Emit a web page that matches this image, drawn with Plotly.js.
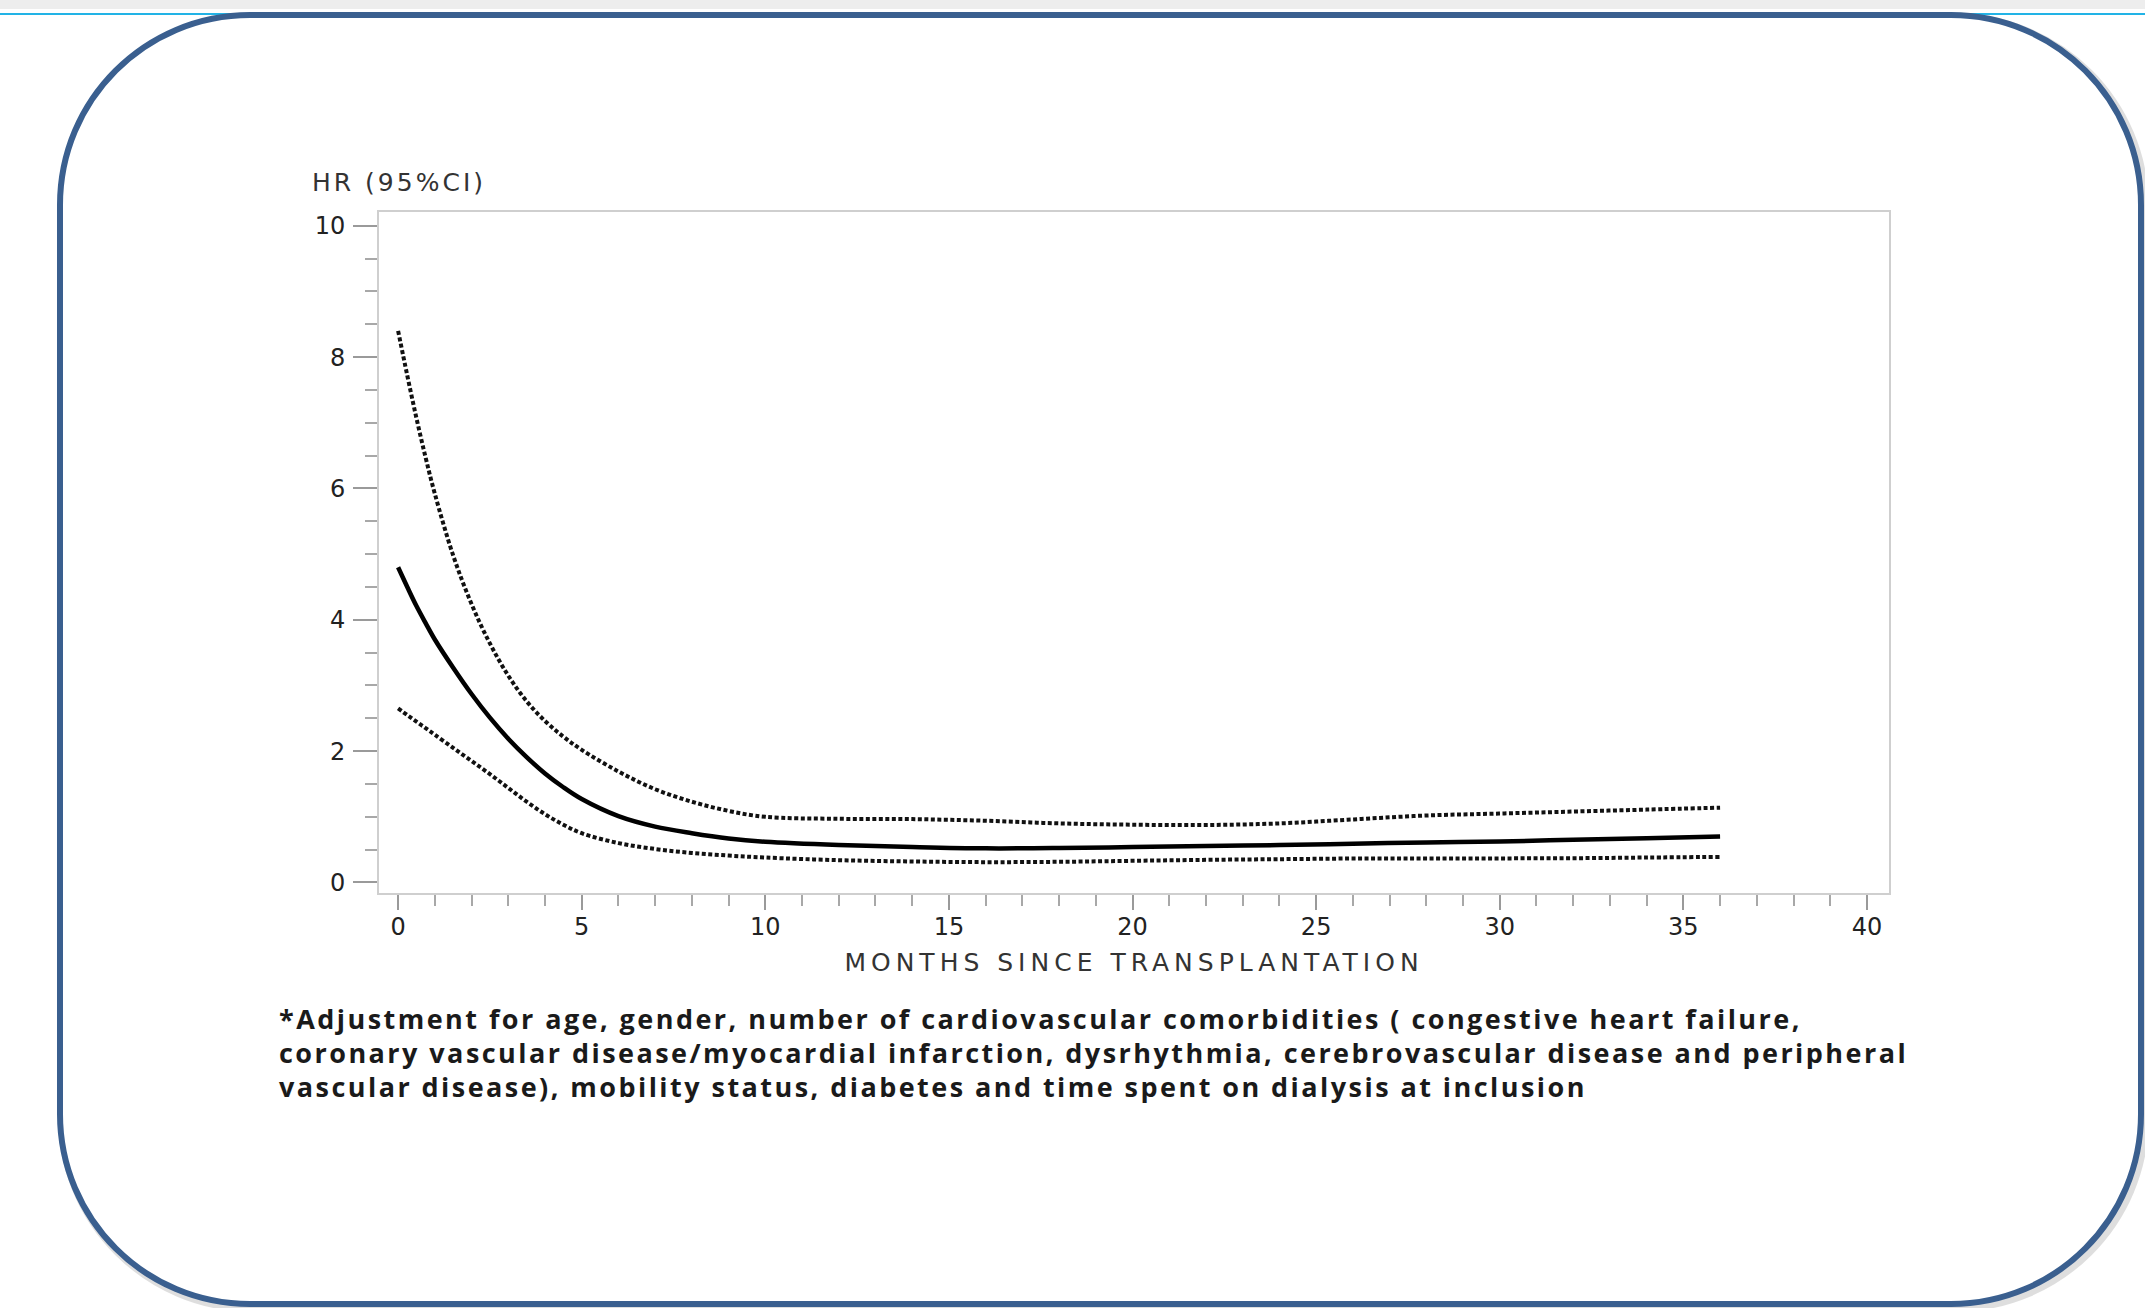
<!DOCTYPE html>
<html>
<head>
<meta charset="utf-8">
<script src="https://cdn.plot.ly/plotly-3.0.1.min.js"></script>
<style>
  html, body { margin: 0; padding: 0; background: #ffffff; }
  #chart { width: 2145px; height: 1308px; }
  .xtitle { letter-spacing: 5px; }
  .annotation[data-index="0"] text { letter-spacing: 3px; }
  .annotation[data-index="1"] text,
  .annotation[data-index="2"] text,
  .annotation[data-index="3"] text { letter-spacing: 2.45px; }
</style>
</head>
<body>
<div id="chart"></div>
<script>
// ---- data ----
const months = [0, 0.25, 0.5, 0.75, 1, 1.5, 2, 2.5, 3, 3.5, 4, 4.5, 5, 6, 7, 8, 9, 10, 12, 14, 16, 18, 20, 22, 24, 26, 28, 30, 32, 34, 36];
const hr     = [4.8, 4.5, 4.21, 3.95, 3.70, 3.27, 2.87, 2.51, 2.19, 1.91, 1.66, 1.45, 1.27, 1.01, 0.85, 0.75, 0.67, 0.62, 0.57, 0.54, 0.52, 0.525, 0.54, 0.555, 0.57, 0.59, 0.61, 0.625, 0.65, 0.675, 0.70];
const upper  = [8.4, 7.72, 7.07, 6.47, 5.92, 4.98, 4.24, 3.64, 3.15, 2.76, 2.46, 2.22, 2.02, 1.69, 1.42, 1.23, 1.09, 1.0, 0.97, 0.965, 0.94, 0.90, 0.88, 0.875, 0.90, 0.96, 1.02, 1.05, 1.08, 1.11, 1.14];
const lower  = [2.65, 2.55, 2.45, 2.35, 2.25, 2.05, 1.85, 1.65, 1.44, 1.23, 1.04, 0.88, 0.75, 0.60, 0.51, 0.45, 0.41, 0.38, 0.34, 0.32, 0.31, 0.315, 0.33, 0.345, 0.355, 0.365, 0.367, 0.367, 0.37, 0.38, 0.39];

const yTickVals = [0, 2, 4, 6, 8, 10];
const xTickVals = [0, 5, 10, 15, 20, 25, 30, 35, 40];
const yLabel = "HR (95%CI)";
const xLabel = "MONTHS SINCE TRANSPLANTATION";
const footnote = [
  "*Adjustment for age, gender, number of cardiovascular comorbidities ( congestive heart failure,",
  "coronary vascular disease/myocardial infarction, dysrhythmia, cerebrovascular disease and peripheral",
  "vascular disease), mobility status, diabetes and time spent on dialysis at inclusion"
];

// ---- layout geometry (pixels) ----
const W = 2145, H = 1308;
const M = { l: 379, r: 256, t: 212, b: 415 };
const PW = W - M.l - M.r, PH = H - M.t - M.b;
const px = x => (x - M.l) / PW;
const py = y => (H - M.b - y) / PH;

function roundRectPath(L, T, R, B, r, dx, dy) {
  dx = dx || 0; dy = dy || 0;
  L += dx; R += dx; T += dy; B += dy;
  const k = 0.5523 * r;
  const P = (x, y) => px(x).toFixed(5) + "," + py(y).toFixed(5);
  return "M" + P(L + r, T) +
    " L" + P(R - r, T) +
    " C" + P(R - r + k, T) + " " + P(R, T + r - k) + " " + P(R, T + r) +
    " L" + P(R, B - r) +
    " C" + P(R, B - r + k) + " " + P(R - r + k, B) + " " + P(R - r, B) +
    " L" + P(L + r, B) +
    " C" + P(L + r - k, B) + " " + P(L, B - r + k) + " " + P(L, B - r) +
    " L" + P(L, T + r) +
    " C" + P(L, T + r - k) + " " + P(L + r - k, T) + " " + P(L + r, T) + " Z";
}

const frameColor = "#3a5f8f";
const shapes = [
  { type: "rect", xref: "paper", yref: "paper", x0: px(0), x1: px(W), y0: py(0), y1: py(9),
    fillcolor: "rgba(0,0,0,0.07)", line: { width: 0 }, layer: "below" },
  { type: "line", xref: "paper", yref: "paper", x0: px(0), x1: px(W), y0: py(14), y1: py(14),
    line: { color: "#22b3e6", width: 2 }, layer: "below" },
  { type: "path", xref: "paper", yref: "paper", path: roundRectPath(60, 15, 2141, 1304, 190, 3, 3),
    line: { color: "rgba(0,0,0,0.13)", width: 10 }, fillcolor: "rgba(0,0,0,0)", layer: "below" },
  { type: "path", xref: "paper", yref: "paper", path: roundRectPath(60, 15, 2141, 1304, 190, 0, 0),
    line: { color: frameColor, width: 6 }, fillcolor: "#ffffff", layer: "below" }
];

const tickFont = { family: "DejaVu Sans, Arial, sans-serif", size: 24, color: "#222222" };

const traces = [
  { x: months, y: upper, mode: "lines", name: "upper 95% CI",
    line: { color: "#111111", width: 4, dash: "4px,2.5px", shape: "spline", smoothing: 1 } },
  { x: months, y: lower, mode: "lines", name: "lower 95% CI",
    line: { color: "#111111", width: 4, dash: "4px,2.5px", shape: "spline", smoothing: 1 } },
  { x: months, y: hr, mode: "lines", name: "HR",
    line: { color: "#000000", width: 4.5, shape: "spline", smoothing: 1 } }
];

const annotations = [
  { xref: "paper", yref: "paper", x: px(310), y: py(182), xanchor: "left", yanchor: "middle", align: "left",
    text: yLabel, showarrow: false,
    font: { family: "DejaVu Sans, Arial, sans-serif", size: 25, color: "#333333" } }
];
const footY = [1018, 1052, 1086];
footnote.forEach((t, i) => {
  annotations.push({ xref: "paper", yref: "paper", x: px(277), y: py(footY[i]),
    xanchor: "left", yanchor: "middle", align: "left", text: "<b>" + t + "</b>", showarrow: false,
    font: { family: "Open Sans, sans-serif", size: 27, color: "#1a1a1a" } });
});

const layout = {
  width: W, height: H,
  margin: M,
  paper_bgcolor: "#ffffff",
  plot_bgcolor: "rgba(0,0,0,0)",
  showlegend: false,
  xaxis: {
    range: [-0.52, 40.6], tickvals: xTickVals, ticktext: xTickVals.map(String),
    ticks: "outside", ticklen: 15, tickwidth: 2, tickcolor: "#9a9a9a",
    minor: { dtick: 1, tick0: 0, ticks: "outside", ticklen: 11, tickwidth: 2, tickcolor: "#a8a8a8", showgrid: false },
    showline: true, linecolor: "#cfcfcf", linewidth: 2, mirror: true,
    showgrid: false, zeroline: false, tickfont: tickFont, ticklabelstandoff: -4,
    title: { text: xLabel, font: { family: "DejaVu Sans, Arial, sans-serif", size: 25, color: "#333333" }, standoff: 14 }
  },
  yaxis: {
    range: [-0.16, 10.21], tickvals: yTickVals, ticktext: yTickVals.map(String),
    ticks: "outside", ticklen: 24, tickwidth: 2, tickcolor: "#9a9a9a",
    minor: { dtick: 0.5, tick0: 0, ticks: "outside", ticklen: 12, tickwidth: 2, tickcolor: "#a8a8a8", showgrid: false },
    showline: true, linecolor: "#cfcfcf", linewidth: 2, mirror: true,
    showgrid: false, zeroline: false, tickfont: tickFont, ticklabelstandoff: 3
  },
  shapes: shapes,
  annotations: annotations
};

Plotly.newPlot("chart", traces, layout, { displayModeBar: false, staticPlot: true });
</script>
</body>
</html>
